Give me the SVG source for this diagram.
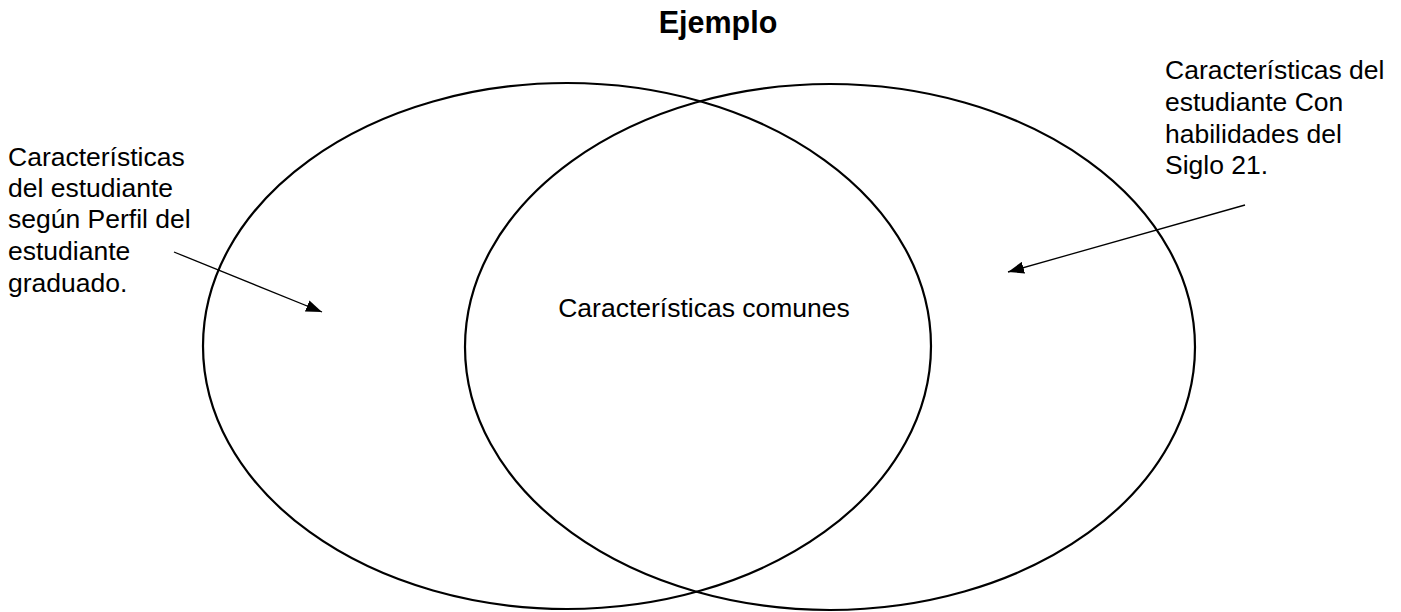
<svg xmlns="http://www.w3.org/2000/svg" width="1401" height="612" viewBox="0 0 1401 612">
<style>
text{font-family:"Liberation Sans",Arial,sans-serif;fill:#000;font-size:26.5px}
.title{font-weight:bold;font-size:30.5px}
.ell{fill:none;stroke:#000;stroke-width:2.2}
.conn{stroke:#000;stroke-width:1.3;fill:none}
</style>
<defs>
<marker id="ah" markerWidth="16" markerHeight="12" refX="16" refY="6" orient="auto" markerUnits="userSpaceOnUse">
<path d="M0,0 L16,6 L0,12 Z" fill="#000"/>
</marker>
</defs>
<text class="title" x="718" y="33" text-anchor="middle">Ejemplo</text>
<g id="left">
<ellipse class="ell" cx="567" cy="346" rx="364" ry="263"/>
</g>
<g id="right">
<ellipse class="ell" cx="830" cy="347" rx="365" ry="263"/>
</g>
<g id="common">
<text x="704" y="317" text-anchor="middle">Características comunes</text>
</g>
<g id="label-left">
<text x="8" y="166">Características</text>
<text x="8" y="197">del estudiante</text>
<text x="8" y="228">según Perfil del</text>
<text x="8" y="260">estudiante</text>
<text x="8" y="292">graduado.</text>
</g>
<g id="label-right">
<text x="1165" y="79">Características del</text>
<text x="1165" y="111">estudiante Con</text>
<text x="1165" y="143">habilidades del</text>
<text x="1165" y="174">Siglo 21.</text>
</g>
<g id="connectors">
<line class="conn" x1="174" y1="252" x2="322" y2="312" marker-end="url(#ah)"/>
<line class="conn" x1="1245" y1="205" x2="1008" y2="272" marker-end="url(#ah)"/>
</g>
</svg>
